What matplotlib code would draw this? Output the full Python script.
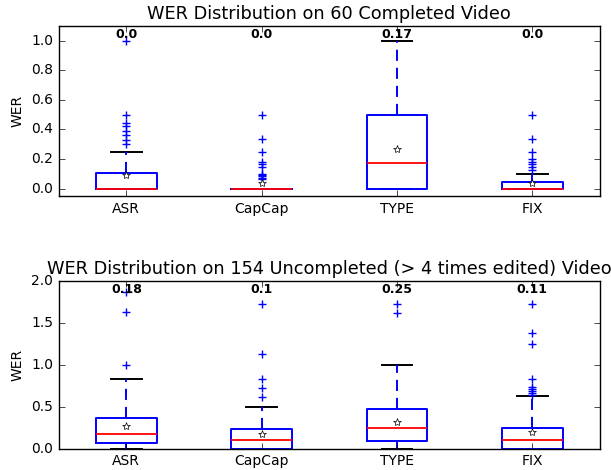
import matplotlib
matplotlib.use("Agg")
import matplotlib.pyplot as plt

plt.style.use("classic")
plt.rcParams["font.size"] = 10

labels = ["ASR", "CapCap", "TYPE", "FIX"]

# completed videos (60)
c_q1 = [0.0, 0.0, 0.0, 0.0]
c_med = [0.0, 0.0, 0.17, 0.0]
c_q3 = [0.105, 0.0, 0.5, 0.045]
c_lo = [0.0, 0.0, 0.0, 0.0]
c_hi = [0.25, 0.0, 1.0, 0.1]
c_mean = [0.093, 0.04, 0.268, 0.037]
c_fliers = [
    [1.0, 0.5, 0.44, 0.42, 0.39, 0.36, 0.33, 0.30],
    [0.5, 0.333, 0.25, 0.182, 0.167, 0.143, 0.1, 0.091, 0.083, 0.071, 0.0625],
    [],
    [0.5, 0.333, 0.25, 0.2, 0.182, 0.167, 0.143, 0.125],
]

# uncompleted videos (154)
u_q1 = [0.071, 0.0, 0.095, 0.0]
u_med = [0.18, 0.1, 0.25, 0.11]
u_q3 = [0.372, 0.234, 0.471, 0.253]
u_lo = [0.0, 0.0, 0.0, 0.0]
u_hi = [0.828, 0.5, 1.0, 0.63]
u_mean = [0.27, 0.174, 0.32, 0.206]
u_fliers = [
    [1.0, 1.628, 1.862],
    [1.72, 1.125, 0.828, 0.72, 0.614],
    [1.72, 1.61],
    [1.72, 1.375, 1.25, 0.833, 0.733, 0.71, 0.687, 0.667, 0.643],
]


def make_stats(q1, med, q3, lo, hi, mean, fliers):
    stats = []
    for i in range(len(labels)):
        stats.append(dict(q1=q1[i], med=med[i], q3=q3[i], whislo=lo[i],
                          whishi=hi[i], mean=mean[i], fliers=fliers[i],
                          label=labels[i]))
    return stats


def draw(ax, stats, meds, title, ylim):
    ax.bxp(stats, widths=0.45, showmeans=True,
           boxprops=dict(color="b", linewidth=1.4),
           whiskerprops=dict(color="b", linewidth=1.4, dashes=(8, 5)),
           capprops=dict(color="k", linewidth=1.4, zorder=1.9),
           medianprops=dict(color="r", linewidth=1.3),
           flierprops=dict(marker="+", markeredgecolor="b", markersize=6),
           meanprops=dict(marker="*", markerfacecolor="white",
                          markeredgecolor="k", markersize=6))
    ax.set_ylim(ylim)
    ax.set_xlim(0.5, 4.5)
    ax.set_ylabel("WER")
    ax.set_title(title, fontsize=12.8)
    for i, m in enumerate(meds):
        ax.text(i + 1, 0.95, str(round(m, 2)), transform=ax.get_xaxis_transform(),
                ha="center", va="center", fontsize=9, fontweight="bold")


fig = plt.figure(figsize=(6.11, 4.70), dpi=100)
fig.patch.set_facecolor("white")
ax1 = fig.add_axes([0.096, 0.583, 0.886, 0.362])
ax2 = fig.add_axes([0.096, 0.045, 0.886, 0.358])

draw(ax1, make_stats(c_q1, c_med, c_q3, c_lo, c_hi, c_mean, c_fliers), c_med,
     "WER Distribution on 60 Completed Video", (-0.05, 1.1))
ax1.set_yticks([0.0, 0.2, 0.4, 0.6, 0.8, 1.0])

draw(ax2, make_stats(u_q1, u_med, u_q3, u_lo, u_hi, u_mean, u_fliers), u_med,
     "WER Distribution on 154 Uncompleted (> 4 times edited) Video", (0, 2.0))
ax2.set_yticks([0.0, 0.5, 1.0, 1.5, 2.0])

fig.savefig("out.png", dpi=100, facecolor="white")
